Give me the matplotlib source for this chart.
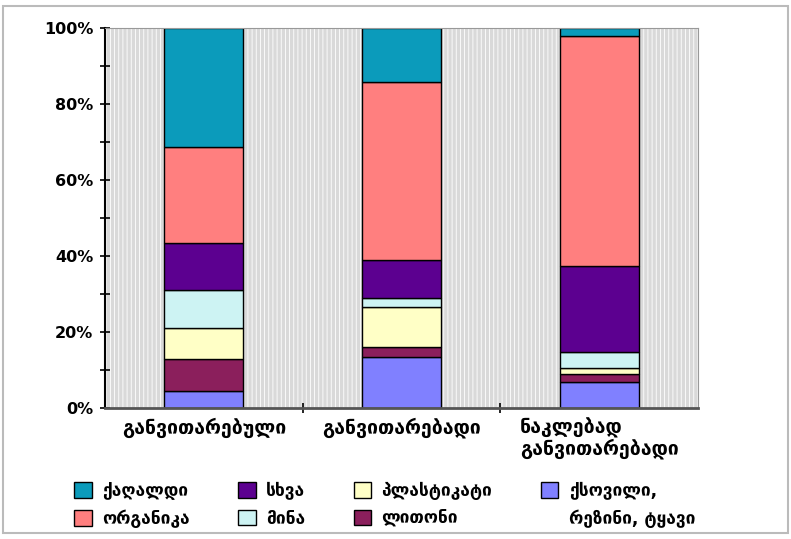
import matplotlib
matplotlib.use("Agg")
import matplotlib.pyplot as plt
from matplotlib.patches import Rectangle
import numpy as np

categories = ["განვითარებული", "განვითარებადი", "ნაკლებად\nგანვითარებადი"]

# stacked from bottom to top
series = ["ქსოვილი,", "ლითონი", "პლასტიკატი", "მინა", "სხვა", "ორგანიკა", "ქაღალდი"]
textile = [4.6, 13.5, 6.8]
metal = [8.3, 2.5, 2.2]
plastic = [8.1, 10.7, 1.6]
glass = [10.0, 2.2, 4.1]
other = [12.5, 10.1, 22.6]
organic = [25.2, 46.7, 60.5]
paper = [31.3, 14.3, 2.2]

colors = ["#8080ff", "#8b1f5c", "#ffffc6", "#cdf3f3", "#5c0090", "#ff7f7f", "#0b9bbb"]

plt.rcParams['font.family'] = ['DejaVu Sans']
plt.rcParams['hatch.linewidth'] = 0.6

fig = plt.figure(figsize=(7.91, 5.39), dpi=100)
ax = fig.add_axes([0.1327, 0.243, 0.7497, 0.705])

ax.set_facecolor("#d9d9d9")
ax.add_patch(Rectangle((0, 0), 1, 1, transform=ax.transAxes, facecolor="none",
                       edgecolor="white", hatch="||||", lw=0, zorder=0))

x = np.arange(len(categories))
data = [textile, metal, plastic, glass, other, organic, paper]
bottom = np.zeros(len(categories))
bars = []
for name, vals, c in zip(series, data, colors):
    vals = np.array(vals)
    b = ax.bar(x, vals, 0.4, bottom=bottom, color=c, edgecolor="black", lw=1.0,
               label=name, zorder=2)
    bars.append(b)
    bottom += vals

ax.set_xlim(-0.5, 2.5)
ax.set_ylim(0, 100)
ax.set_yticks(np.arange(0, 101, 20))
ax.set_yticklabels([f"{v}%" for v in range(0, 101, 20)], fontsize=11.5, fontweight="bold")
ax.set_yticks(np.arange(10, 100, 20), minor=True)
ax.tick_params(axis="y", which="both", direction="inout", length=7, width=1.2, pad=5)

ax.set_xticks(x)
ax.set_xticklabels(categories, fontsize=14, fontweight="bold", multialignment="left",
                   linespacing=1.0)
ax.tick_params(axis="x", which="major", length=0, pad=7)
ax.set_xticks([0.5, 1.5], minor=True)
ax.tick_params(axis="x", which="minor", direction="inout", length=7, width=1.2)

ax.spines["left"].set_color("black")
ax.spines["left"].set_linewidth(1.5)
ax.spines["bottom"].set_color("#555555")
ax.spines["bottom"].set_linewidth(2)
ax.spines["top"].set_color("#999999")
ax.spines["right"].set_color("#999999")

# legend: reverse order, 4 columns; second line of the textile label as a blank-handle entry
blank = Rectangle((0, 0), 1, 1, fill=False, edgecolor="none")
handles = bars[::-1] + [blank]
labels = series[::-1] + ["რეზინი, ტყავი"]
fig.legend(handles, labels, loc="lower left", bbox_to_anchor=(0.072, -0.012), ncol=4,
           frameon=False, prop={"size": 12.5, "weight": "bold"}, handlelength=1.0,
           handleheight=1.0, columnspacing=2.8, handletextpad=0.6, labelspacing=0.55,
           borderpad=0.5)

fig.patches.append(Rectangle((0.004, 0.012), 0.992, 0.976, transform=fig.transFigure,
                             fill=False, edgecolor="#bbbbbb", lw=1.5))

plt.savefig("out.png", dpi=100)
plt.close()
